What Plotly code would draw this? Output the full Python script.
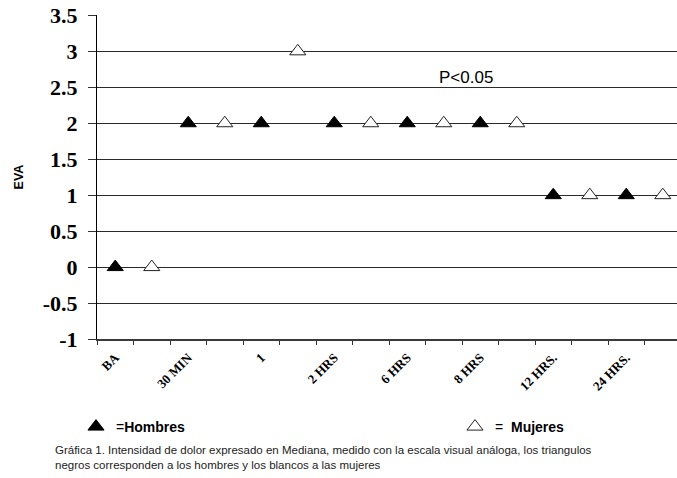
import plotly.graph_objects as go

# Time points and median EVA pain scores
categories = ["BA", "30 MIN", "1", "2 HRS", "6 HRS", "8 HRS", "12 HRS.", "24 HRS."]
hombres = [0, 2, 2, 2, 2, 2, 1, 1]
mujeres = [0, 2, 3, 2, 2, 2, 1, 1]

y_ticks = [-1, -0.5, 0, 0.5, 1, 1.5, 2, 2.5, 3, 3.5]
y_ticktext = ["-1", "-0.5", "0", "0.5", "1", "1.5", "2", "2.5", "3", "3.5"]

caption = ("Gráfica 1. Intensidad de dolor expresado en Mediana, medido con la escala visual análoga, los triangulos<br>"
           "negros corresponden a los hombres y los blancos a las mujeres")

# each time point takes two slots: men first, women second
n = len(categories)
x_h = [2 * i + 1 for i in range(n)]
x_m = [2 * i + 2 for i in range(n)]
slot_edges = [k + 0.5 for k in range(2 * n + 1)]

fig = go.Figure()
fig.add_trace(go.Scatter(
    x=x_h, y=hombres, mode="markers", name="=<b>Hombres</b>", legend="legend",
    marker=dict(symbol="triangle-up", size=14, color="black",
                line=dict(color="black", width=1)),
))
fig.add_trace(go.Scatter(
    x=x_m, y=mujeres, mode="markers", name="=  <b>Mujeres</b>", legend="legend2",
    marker=dict(symbol="triangle-up", size=14, color="white",
                line=dict(color="#222", width=1)),
))

x_range = [0.5, 16.39]
serif = "Liberation Serif"
sans = "Liberation Sans"

plot_w = 677 - 97
plot_h = 478 - 15 - 139


def px_x(px):
    return (px - 97) / plot_w


def px_y(py):
    return (339 - py) / plot_h


legend_style = dict(orientation="h", xanchor="left", yanchor="middle",
                    font=dict(family=sans, size=14, color="black"),
                    bgcolor="rgba(0,0,0,0)", borderwidth=0)

fig.update_layout(
    width=677, height=478,
    margin=dict(l=97, r=0, t=15, b=139),
    paper_bgcolor="white", plot_bgcolor="white",
    showlegend=True,
    legend=dict(x=px_x(76), y=px_y(427), **legend_style),
    legend2=dict(x=px_x(455), y=px_y(427), **legend_style),
    xaxis=dict(
        range=x_range, showgrid=False, zeroline=False,
        showline=True, linecolor="#3a3a3a", linewidth=2,
        tickmode="array", tickvals=x_h, ticktext=categories,
        ticks="", tickangle=-45, ticklabelstandoff=4,
        tickfont=dict(family=serif, size=13, color="black", weight="bold"),
        minor=dict(tickmode="array", tickvals=slot_edges, ticks="outside",
                   ticklen=4, tickcolor="#333", tickwidth=1, showgrid=False),
    ),
    xaxis2=dict(
        range=x_range, overlaying="x", anchor="y", side="bottom",
        showgrid=False, zeroline=False, showline=False, showticklabels=False,
        tickmode="array", tickvals=[], ticks="",
        minor=dict(tickmode="array", tickvals=slot_edges, ticks="inside",
                   ticklen=5, tickcolor="#333", tickwidth=1, showgrid=False),
    ),
    yaxis=dict(
        range=[-1, 3.505], showgrid=True, gridcolor="#2a2a2a", gridwidth=1,
        zeroline=False, showline=True, linecolor="black", linewidth=1,
        tickmode="array", tickvals=y_ticks, ticktext=y_ticktext,
        ticks="outside", ticklen=8, tickcolor="#333", ticklabelstandoff=6,
        tickfont=dict(family=serif, size=22, color="black", weight="bold"),
        title=dict(text="<b>EVA</b>", standoff=16,
                   font=dict(family=sans, size=12.5, color="black")),
    ),
    annotations=[
        dict(x=10.6, y=2.64, xref="x", yref="y", text="P<0.05", showarrow=False,
             font=dict(family=sans, size=17, color="black")),
        dict(x=px_x(53), y=px_y(457), xref="paper", yref="paper", text=caption,
             showarrow=False, align="left", xanchor="left", yanchor="middle",
             font=dict(family=sans, size=11.5, color="#222")),
    ],
)

fig.write_html("out.html")
